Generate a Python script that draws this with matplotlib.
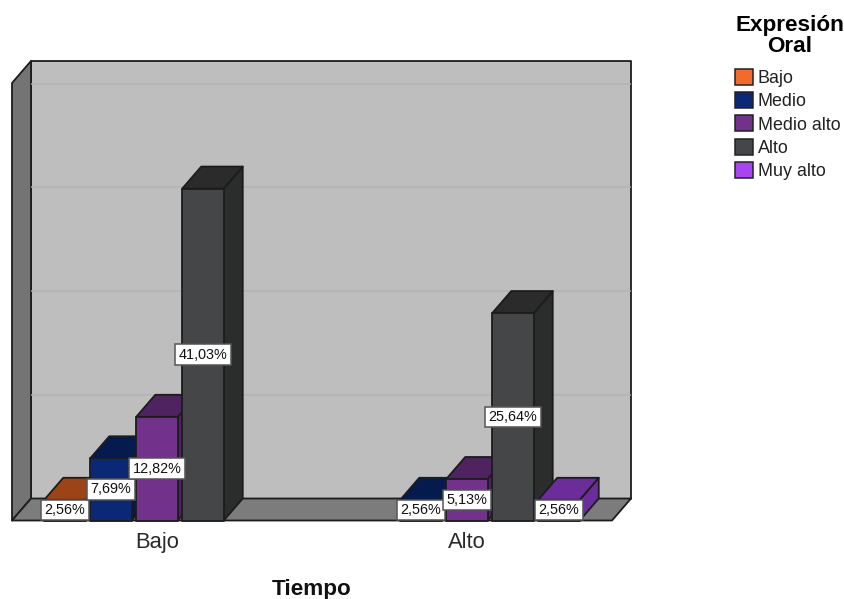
import matplotlib
matplotlib.use("Agg")
import matplotlib.pyplot as plt
from matplotlib.patches import Polygon, Patch

plt.rcParams['font.family'] = ['Liberation Sans', 'DejaVu Sans']

categories = ["Bajo", "Alto"]
series_names = ["Bajo", "Medio", "Medio alto", "Alto", "Muy alto"]
bajo_values = [2.56, 7.69, 12.82, 41.03, 0]
alto_values = [0, 2.56, 5.13, 25.64, 2.56]
grid_values = [0, 12.82, 25.64, 38.46, 51.28]
front_colors = ["#F26A2C", "#0B2877", "#72318B", "#444647", "#A845EE"]
top_colors = ["#9C4318", "#051A4D", "#4E2360", "#2B2B2B", "#6A2D9A"]
side_colors = ["#7A3413", "#06184A", "#4E2360", "#2B2D2C", "#6A2D9A"]

W, H = 845, 599
px_x = 310.0   # pixels per category
px_y = 8.09    # pixels per percent
x0 = 157.0
y0 = 520.5

bar_w = 41.5 / px_x
step = 46.0 / px_x
dx = 19.0 / px_x
dy = 22.0 / px_y
line = "#1c1c1c"

fig = plt.figure(figsize=(W / 100, H / 100), dpi=100)
ax = fig.add_axes([0, 0, 1, 1])
ax.set_xlim(-x0 / px_x, (W - x0) / px_x)
ax.set_ylim((y0 - H) / px_y, y0 / px_y)
ax.axis("off")


def poly(pts, color, z=1):
    ax.add_patch(Polygon(pts, closed=True, facecolor=color, edgecolor=line, lw=1.3, zorder=z, joinstyle="round"))


# chart box
left = -145.0 / px_x
right = 455.0 / px_x
top = 54.08
poly([(left + dx, dy), (right + dx, dy), (right + dx, top + dy), (left + dx, top + dy)], "#BEBEBE")
poly([(left, 0), (left + dx, dy), (left + dx, top + dy), (left, top)], "#747474")
poly([(left, 0), (right, 0), (right + dx, dy), (left + dx, dy)], "#7C7C7C")
for g in grid_values[1:]:
    ax.plot([left + dx + 0.002, right + dx - 0.002], [g + dy, g + dy], color="#B4B4B4", lw=1.2, zorder=1.5)

# bars, left to right so the next one covers the side of the one before
labels = []
for c, values in enumerate([bajo_values, alto_values]):
    for s, v in enumerate(values):
        if v == 0:
            continue
        xl = c + (s - 2) * step - bar_w / 2
        xr = xl + bar_w
        poly([(xr, 0), (xr + dx, dy), (xr + dx, v + dy), (xr, v)], side_colors[s], 2)
        poly([(xl, v), (xr, v), (xr + dx, v + dy), (xl + dx, v + dy)], top_colors[s], 2)
        poly([(xl, 0), (xr, 0), (xr, v), (xl, v)], front_colors[s], 2)
        labels.append((xl + bar_w / 2, v))

for xc, v in labels:
    ax.text(xc, v / 2, f"{v:.2f}%".replace(".", ","), ha="center", va="center", fontsize=10.4,
            color="#111111", zorder=5,
            bbox=dict(boxstyle="square,pad=0.22", facecolor="white", edgecolor="#555555", lw=1.1))

for c, name in enumerate(categories):
    ax.text(c, -2.7, name, ha="center", va="center", fontsize=15.8, color="#2a2a2a")
ax.text(0.5, -8.5, "Tiempo", ha="center", va="center", fontsize=16.2, fontweight="bold", color="#111111")

handles = [Patch(facecolor=fc, edgecolor="#222222", lw=1.1) for fc in front_colors]
leg = ax.legend(handles, series_names, title="Expresión\nOral", loc="upper left",
                bbox_to_anchor=(735.5 / W, 1 - 14.5 / H), bbox_transform=fig.transFigure,
                frameon=False, fontsize=12.9, handlelength=0.95, handleheight=1.0,
                labelspacing=0.28, handletextpad=0.3, borderpad=0, borderaxespad=0,
                alignment="left", title_fontproperties={"size": 16.2, "weight": "bold"})
leg.get_title().set_linespacing(1.05)
leg.get_title().set_multialignment("center")
leg._legend_box.sep = 8.5
for t in leg.get_texts():
    t.set_color("#222222")

fig.savefig("out.png", dpi=100)
